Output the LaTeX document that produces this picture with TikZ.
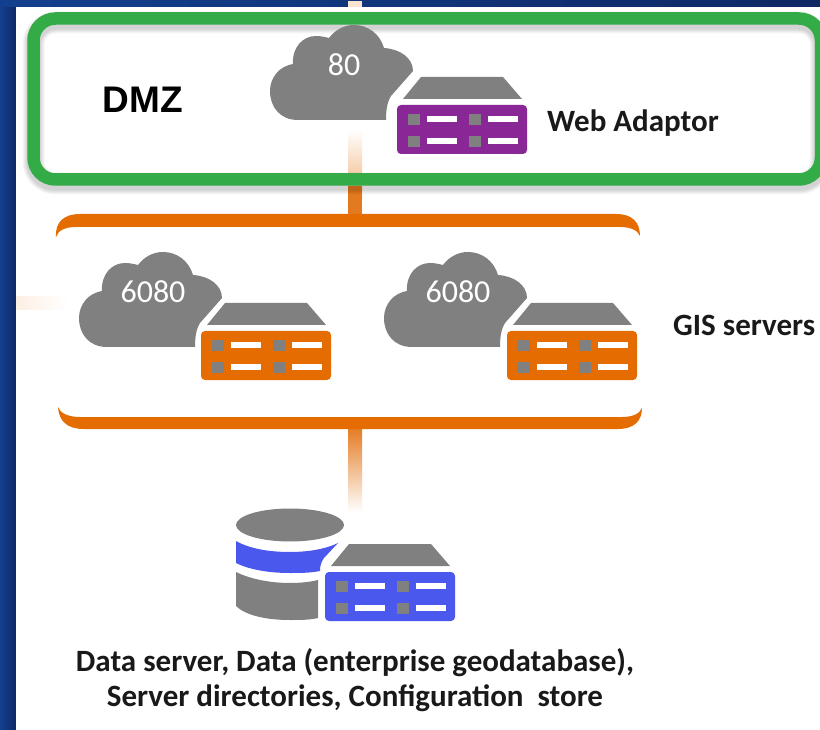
\documentclass[tikz,border=0pt]{standalone}
\usepackage{fontspec}
\setmainfont{Carlito}
\newfontfamily\dmzfont{Liberation Sans}
\usetikzlibrary{positioning}

\definecolor{bluelight}{HTML}{13408E}
\definecolor{bluedark}{HTML}{0F2864}
\definecolor{framegreen}{HTML}{33AC48}
\definecolor{busorange}{HTML}{E46C00}
\definecolor{linkorange}{HTML}{E47A20}
\definecolor{fadeorange}{HTML}{F0B078}
\definecolor{iconpurple}{HTML}{882795}
\definecolor{iconblue}{HTML}{4A58EE}
\definecolor{icongray}{HTML}{808080}

\tikzset{
	lbl/.style={inner sep=0pt, font=\bfseries\fontsize{31}{35}\selectfont, text=black!90},
	portlbl/.style={inner sep=0pt, font=\fontsize{32}{32}\selectfont, text=white}
}

% cloud with its port number: x, y, port
\newcommand{\cloudicon}[3]{
	\begin{scope}[shift={(#1,#2)}]
		\fill[icongray] (28,95) .. controls (10,95) and (0,82) .. (0,66)
			.. controls (0,52) and (10,41) .. (23,39)
			.. controls (22,22) and (33,11) .. (46,11)
			.. controls (51,11) and (55,12) .. (59,13)
			.. controls (65,5) and (74,0) .. (84,0)
			.. controls (98,0) and (110,9) .. (114,23)
			.. controls (130,24) and (143,33) .. (143,46)
			-- (121,71) .. controls (118,76) and (116,82) .. (116,95) -- cycle;
		\node[portlbl] at (74,40) {#3};
	\end{scope}
}

% server: x, y, colour
\newcommand{\servericon}[3]{
	\begin{scope}[shift={(#1,#2)}]
		\fill[icongray] (6,22) -- (24,0) -- (106,0) -- (125,22) -- cycle;
		\fill[#3, rounded corners=4pt] (0,28) rectangle (130,77);
		\foreach \row in {37,59} {
			\foreach \col in {11,72} {
				\fill[icongray] (\col,\row) rectangle ++(12,11);
				\fill[white] (\col+19,\row+2) rectangle ++(30,6);
			}
		}
	\end{scope}
}

\begin{document}
\begin{tikzpicture}[x=1pt,y=-1pt]
	\useasboundingbox (0,0) rectangle (820,730);
	\clip (0,0) rectangle (820,730);

	% backdrop
	\shade[left color=bluelight, right color=bluedark] (0,0) rectangle (16,730);
	\shade[left color=bluelight, right color=bluedark] (0,0) rectangle (820,7);
	\fill[white] (16,7) rectangle (820,730);

	\coordinate (dmzTop) at (355,7);
	\coordinate (dmzIn) at (355,130);
	\coordinate (dmzOut) at (355,186);
	\coordinate (busTop) at (355,216);
	\coordinate (busBot) at (355,427);
	\coordinate (dbTop) at (355,512);
	\coordinate (lanEnd) at (16,297);
	\coordinate (lanIn) at (68,310);

	% links
	\fill[fadeorange!35] ([xshift=-7pt]dmzTop) rectangle ([xshift=7pt,yshift=6pt]dmzTop);
	\shade[top color=white, bottom color=fadeorange] ([xshift=-7pt]dmzIn) rectangle ([xshift=7pt,yshift=-13pt]dmzOut);
	\fill[linkorange] ([xshift=-7pt]dmzOut) rectangle ([xshift=7pt]busTop);
	\shade[top color=linkorange, bottom color=white] ([xshift=-7pt]busBot) rectangle ([xshift=7pt]dbTop);
	\shade[left color=fadeorange!20, right color=white] (lanEnd) rectangle (lanIn);

	% green frame
	\foreach \w/\d in {22/4,20/4,18/4,16/4,14/4} {
		\draw[black, opacity=.035, line width=\w pt, rounded corners=22pt] (33.5,18.5+\d) rectangle (821,179.5+\d);
	}
	\draw[framegreen, line width=12.5pt, rounded corners=22pt] (33.5,18.5) rectangle (821,179.5);

	% bus brackets
	\fill[busorange] (56,237) .. controls (55,222) and (64,214) .. (80,214) -- (616,214)
		.. controls (632,214) and (640,222) .. (640,236)
		.. controls (638,231) and (632,227) .. (620,227) -- (76,227)
		.. controls (64,227) and (58,231) .. (56,237) -- cycle;
	\fill[busorange] (58,407) .. controls (59,422) and (68,429) .. (84,429) -- (618,429)
		.. controls (634,429) and (642,421) .. (642,408)
		.. controls (640,413) and (634,417) .. (622,417) -- (80,417)
		.. controls (68,417) and (60,413) .. (58,407) -- cycle;

	% DMZ
	\cloudicon{270}{25}{80}
	\servericon{397}{77}{iconpurple}
	\node[inner sep=0pt, font=\dmzfont\bfseries\fontsize{37}{37}\selectfont] (dmz) at (143,100) {DMZ};
	\node[lbl, anchor=west] (webadaptor) at (547,123) {Web Adaptor};

	% GIS servers
	\cloudicon{79}{252}{6080}
	\servericon{201}{303}{busorange}
	\cloudicon{384}{252}{6080}
	\servericon{507}{303}{busorange}
	\node[lbl, anchor=west] (gis) at (673,325) {GIS servers};

	% database
	\fill[icongray] (290,525) ellipse (54 and 16.5);
	\fill[iconblue] (236,541) .. controls (250,549) and (270,552) .. (290,552)
		.. controls (308,552) and (326,549) .. (338,543)
		-- (324,558) .. controls (321,562) and (320,566) .. (320,571)
		.. controls (310,573) and (300,573) .. (290,573)
		.. controls (270,573) and (250,570) .. (236,563) -- cycle;
	\fill[icongray] (236,572) .. controls (250,579) and (270,583) .. (290,583)
		.. controls (300,583) and (310,582) .. (318,580) -- (318,618)
		.. controls (310,620) and (300,620) .. (290,620)
		.. controls (265,620) and (245,615) .. (236,606) -- cycle;
	\servericon{325}{544}{iconblue}
	\node[lbl, align=center] (db) at (355,680.5) {Data server, Data (enterprise geodatabase),\\Server directories, Configuration\ \ store};
\end{tikzpicture}
\end{document}
